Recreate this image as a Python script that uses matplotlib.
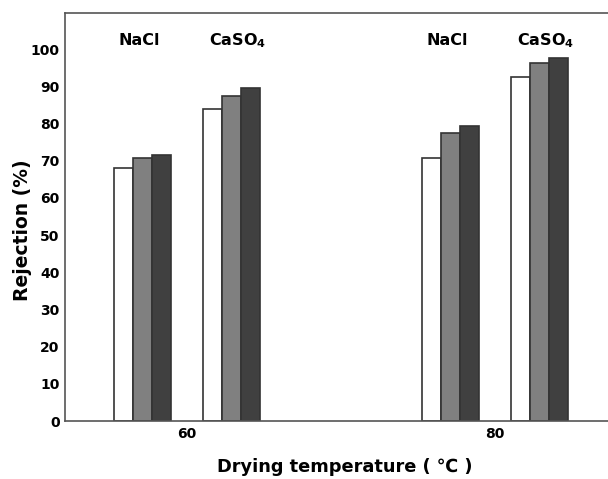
import numpy as np
import matplotlib.pyplot as plt

temps = ['60', '80']
nacl_1 = [68.0, 70.8]
nacl_2 = [70.8, 77.4]
nacl_3 = [71.5, 79.4]
caso4_1 = [83.9, 92.5]
caso4_2 = [87.4, 96.3]
caso4_3 = [89.5, 97.6]

colors = ['white', '#808080', '#404040']
w = 0.062
off = 0.1445

fig = plt.figure(figsize=(6.08, 4.79), dpi=100)
ax = fig.add_axes([0.107, 0.121, 0.893, 0.852])

x = np.arange(len(temps))
for i, vals in enumerate([nacl_1, nacl_2, nacl_3]):
    ax.bar(x - off + (i - 1) * w, vals, w, color=colors[i], edgecolor='#333333', linewidth=1.2)
for i, vals in enumerate([caso4_1, caso4_2, caso4_3]):
    ax.bar(x + off + (i - 1) * w, vals, w, color=colors[i], edgecolor='#333333', linewidth=1.2)

for xi in x:
    ax.text(xi - off - 0.01, 102.2, 'NaCl', ha='center', va='center', fontsize=11.5, fontweight='bold')
    ax.text(xi + off + 0.02, 102.2, r'CaSO$_\mathbf{4}$', ha='center', va='center', fontsize=11.5, fontweight='bold')

ax.set_xlim(-0.396, 1.367)
ax.set_ylim(0, 109.7)
ax.set_yticks(range(0, 101, 10))
ax.set_xticks(x)
ax.set_xticklabels(temps)
ax.tick_params(length=0, labelsize=10, pad=4)
for lab in ax.get_xticklabels() + ax.get_yticklabels():
    lab.set_fontweight('bold')
ax.spines['right'].set_visible(False)
for s in ['left', 'bottom', 'top']:
    ax.spines[s].set_color('#555555')
    ax.spines[s].set_linewidth(1.2)

ax.set_ylabel('Rejection (%)', fontsize=13.5, fontweight='bold')
ax.set_xlabel('Drying temperature ( \u2103 )', fontsize=12.8, fontweight='bold')
ax.yaxis.set_label_coords(-0.079, 0.468)
ax.xaxis.set_label_coords(0.516, -0.113)
ax.xaxis.label.set_va('center')
ax.yaxis.label.set_va('center')

fig.savefig('out.png', dpi=100)
